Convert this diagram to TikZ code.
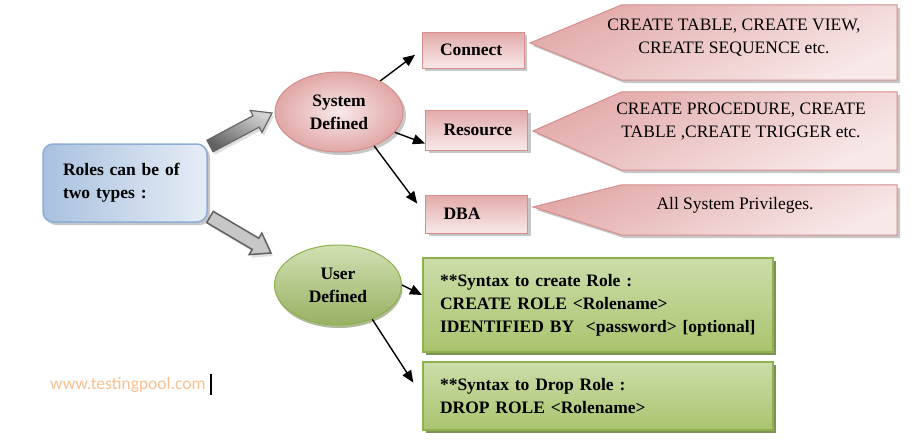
\documentclass[tikz,border=0pt]{standalone}
\usepackage{fontspec}
\setmainfont{Liberation Serif}
\newfontfamily\tnr{Liberation Serif}
\newfontfamily\wmfont{Carlito}
\usetikzlibrary{shapes.geometric,arrows.meta,calc,shadows}

\definecolor{pinkD}{HTML}{E2AAA9}
\definecolor{pinkL}{HTML}{F8E9E9}
\definecolor{pinkB}{HTML}{D58E8C}
\definecolor{blueD}{HTML}{A9C1DF}
\definecolor{blueL}{HTML}{E6EDF6}
\definecolor{blueB}{HTML}{8EADD4}
\definecolor{greenL}{HTML}{CCDDAA}
\definecolor{greenD}{HTML}{A9C46E}
\definecolor{greenB}{HTML}{8EB04D}
\definecolor{greenS}{HTML}{5E7530}
\definecolor{wmcol}{HTML}{FAC08F}

\newcommand{\blockarr}[3]{%
  \coordinate (ba-b) at ($(#2)!18pt!(#1)$);
  \path[#3] ($(#1)!6.5pt!90:(#2)$) -- ($(ba-b)!6.5pt!90:(#2)$) -- ($(ba-b)!12.5pt!90:(#2)$)
    -- (#2) -- ($(ba-b)!12.5pt!-90:(#2)$) -- ($(ba-b)!6.5pt!-90:(#2)$) -- ($(#1)!6.5pt!-90:(#2)$) -- cycle;
}

\begin{document}
\begin{tikzpicture}[x=1pt,y=-1pt,
  every node/.append style={font=\tnr\fontsize{17.5}{23}\selectfont},
  bfont/.style={font=\tnr\fontsize{17.5}{23}\selectfont\bfseries},
  softshadow/.style={drop shadow={shadow xshift=3pt,shadow yshift=-3pt,fill=black!40,opacity=0.55}},
  labelbox/.style={rectangle, draw=pinkB, line width=1pt, top color=pinkD, bottom color=pinkL,
    softshadow, text width=66pt, inner xsep=18pt, inner ysep=0pt, align=left, bfont},
  callbody/.style={rectangle, minimum width=275pt, inner sep=0pt},
  callshape/.style={draw=pinkB, line width=1pt, top color=pinkD, bottom color=pinkL, shading angle=25, softshadow},
  ctext/.style={align=center, inner sep=0pt},
  greenbox/.style={rectangle, draw=greenB, line width=2pt, top color=greenL, bottom color=greenD,
    drop shadow={shadow xshift=3pt,shadow yshift=-3pt,fill=greenS,opacity=0.8},
    text width=316pt, inner xsep=17pt, inner ysep=0pt, align=left, bfont},
  arr/.style={line width=1.4pt, -{Triangle[length=12pt,width=10pt]}},
  grayA/.style={draw=black!60, line width=1.2pt, top color=black!18, bottom color=black!62, shading angle=-30,
    drop shadow={shadow xshift=2pt,shadow yshift=-3pt,fill=black!25}},
  grayB/.style={draw=black!62, line width=1.5pt, fill=black!22,
    drop shadow={shadow xshift=2pt,shadow yshift=-3pt,fill=black!25}}
]
\useasboundingbox (0,0) rectangle (916,442);

% left box
\node[rectangle, rounded corners=10pt, draw=blueB, line width=1.5pt, left color=blueD, right color=blueL,
  softshadow, minimum width=164pt, minimum height=78pt, text width=124pt, inner xsep=20pt, align=left,
  bfont] (roles) at (125,183) {Roles can be of\\two types :};

% ellipses
\node[ellipse, draw=pinkB, line width=1pt, inner color=pinkL, outer color=pinkD!90!pinkB, softshadow,
  minimum width=128pt, minimum height=80pt, inner sep=0pt, align=center, bfont] (sys) at (339,112) {System\\Defined};
\node[ellipse, draw=greenB, line width=1pt, top color=greenL!90!white, bottom color=greenD!90!black,
  drop shadow={shadow xshift=1pt,shadow yshift=-3pt,fill=greenS},
  minimum width=127pt, minimum height=80pt, inner sep=0pt, align=center, bfont] (usr) at (338,285) {User\\Defined};

% block arrows
\coordinate (ua-t) at (210,146);
\coordinate (ua-h) at (272,113);
\coordinate (la-t) at (210,217);
\coordinate (la-h) at (271,253);
\blockarr{ua-t}{ua-h}{grayA}
\blockarr{la-t}{la-h}{grayB}

% pink label boxes
\node[labelbox, minimum height=36pt] (con) at (473,50) {Connect};
\node[labelbox, minimum height=40pt] (res) at (476.5,130) {Resource};
\node[labelbox, minimum height=38pt] (dba) at (476.5,214) {DBA};

% callouts
\node[callbody, minimum height=75pt] (c1) at (759.5,42.5) {};
\coordinate (c1tip) at (530,43);
\path[callshape] (c1tip) -- (c1.north west) -- (c1.north east) -- (c1.south east) -- (c1.south west) -- cycle;
\node[ctext] (c1t) at (734,38) {CREATE TABLE, CREATE VIEW,\\CREATE SEQUENCE etc.};

\node[callbody, minimum height=78pt] (c2) at (759.5,131) {};
\coordinate (c2tip) at (533,131);
\path[callshape] (c2tip) -- (c2.north west) -- (c2.north east) -- (c2.south east) -- (c2.south west) -- cycle;
\node[ctext] (c2t) at (741,122) {CREATE PROCEDURE, CREATE\\TABLE ,CREATE TRIGGER etc.};

\node[callbody, minimum height=50pt] (c3) at (759.5,210) {};
\coordinate (c3tip) at (533,207);
\path[callshape] (c3tip) -- (c3.north west) -- (c3.north east) -- (c3.south east) -- (c3.south west) -- cycle;
\node[ctext] (c3t) at (735,205) {All System Privileges.};

% green boxes
\node[greenbox, minimum height=94pt] (g1) at (598,305)
  {**Syntax to create Role :\\CREATE ROLE <Rolename>\\IDENTIFIED BY~ <password> [optional]};
\node[greenbox, minimum height=68pt] (g2) at (598,396)
  {**Syntax to Drop Role :\\DROP ROLE <Rolename>};

% thin arrows
\draw[arr, shorten >=8pt] (sys.37) -- (con.west);
\draw[arr] (sys.-20) -- ($(res.south west)+(0,-7)$);
\draw[arr, shorten >=13pt] (sys.-44) -- (dba.west);
\draw[arr] (usr.0) -- ($(g1.north west)+(0,38)$);
\draw[arr, shorten >=16pt] (usr.-45) -- (g2.west);

% watermark
\node[anchor=west, inner sep=0pt, text=wmcol, font=\wmfont\fontsize{17.5}{20}\selectfont] (wm) at (50,385) {www.testingpool.com};
\draw[line width=1.5pt] (211,374) -- (211,395);
\end{tikzpicture}
\end{document}
